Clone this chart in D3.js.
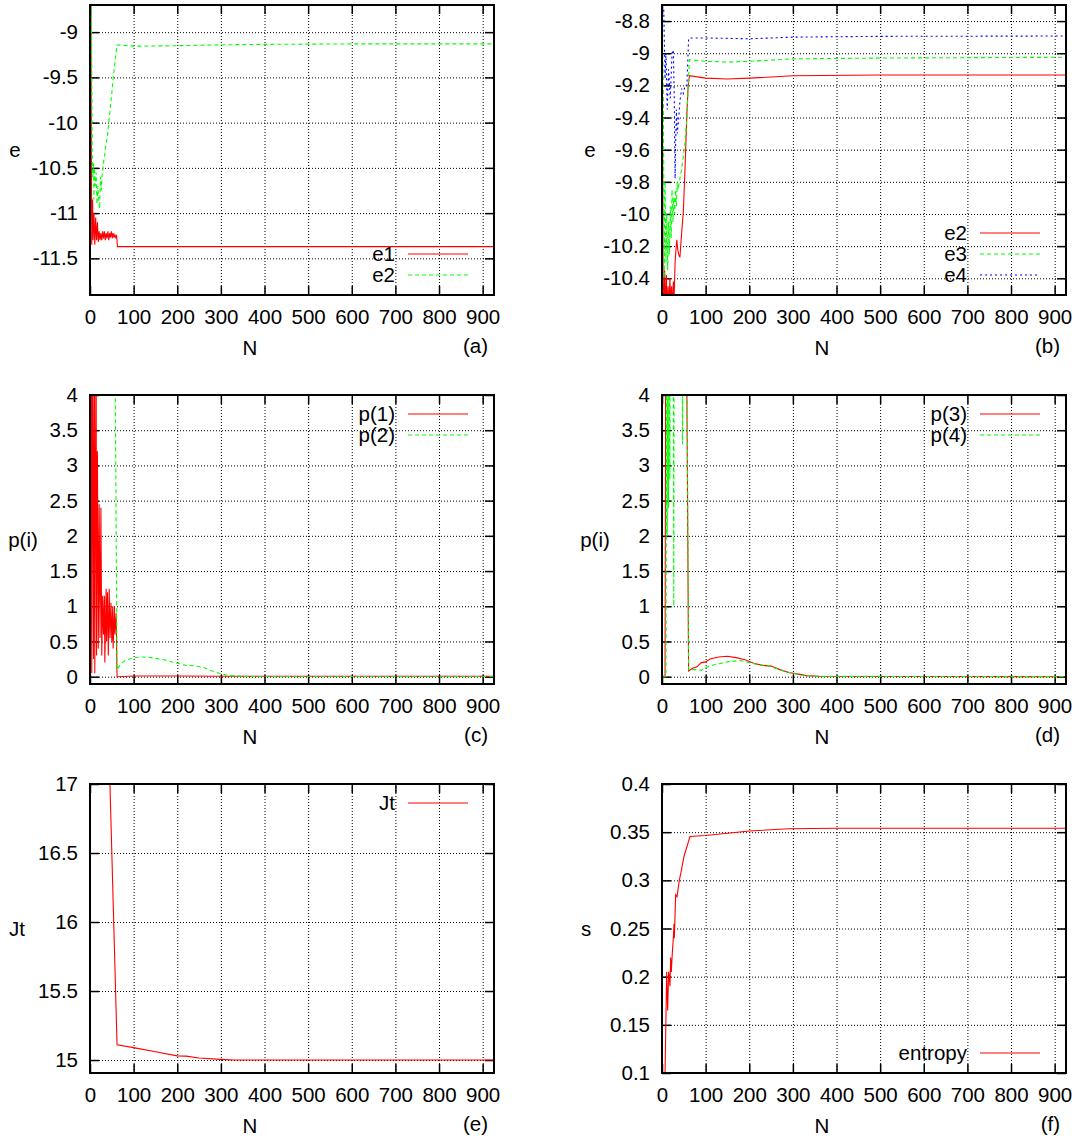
<!DOCTYPE html>
<html>
<head>
<meta charset="utf-8">
<script src="https://cdn.jsdelivr.net/npm/d3@7"></script>
<style>
body { margin: 0; background: #fff; }
text { font-family: "Liberation Sans", Arial, Helvetica, sans-serif; font-size: 20.5px; fill: #000; }
</style>
</head>
<body>
<svg id="chart" width="1079" height="1143"></svg>
<script>
// shared x axis
const xMax = 926;
const xTicks = [0, 100, 200, 300, 400, 500, 600, 700, 800, 900];

// (a) energies e1, e2  -- [N, value]
const aTicks = [-11.5, -11, -10.5, -10, -9.5, -9];
const aE1 = [[2,-8.6],[3,-10.1],[4,-11.35],[6,-10.85],[7,-11.3],[9,-11.0],[11,-11.35],[13,-11.05],[15,-11.3],
  [17,-11.1],[19,-11.32],[21,-11.2],[23,-11.3],[25,-11.22],[27,-11.3],[29,-11.2],[31,-11.28],[33,-11.2],
  [35,-11.3],[37,-11.22],[39,-11.28],[41,-11.2],[43,-11.3],[45,-11.22],[47,-11.27],[49,-11.2],[51,-11.28],
  [53,-11.22],[55,-11.27],[57,-11.24],[59,-11.27],[61,-11.25],[63,-11.37],[100,-11.37],[300,-11.37],[926,-11.37]];
const aE2 = [[3,-8.5],[5,-10.35],[6,-10.6],[8,-10.45],[9,-10.85],[10,-10.5],[12,-10.7],[14,-10.55],[16,-10.9],
  [18,-10.7],[20,-10.85],[22,-10.95],[24,-10.6],[26,-10.75],[28,-10.55],[30,-10.5],[32,-10.4],[34,-10.35],
  [36,-10.25],[38,-10.2],[40,-10.15],[42,-10.05],[44,-9.95],[46,-9.86],[50,-9.67],[54,-9.47],[58,-9.3],
  [62,-9.14],[100,-9.155],[200,-9.15],[300,-9.14],[400,-9.135],[600,-9.13],[926,-9.13]];

// (b) energies e2, e3, e4
const bTicks = [-10.4, -10.2, -10, -9.8, -9.6, -9.4, -9.2, -9, -8.8];
const bE2 = [[0,-8.6],[3,-10.7],[6,-10.35],[8,-10.6],[10,-10.38],[12,-10.6],[14,-10.45],[16,-10.6],[18,-10.4],
  [20,-10.55],[22,-10.45],[24,-10.6],[26,-10.42],[28,-10.5],[30,-10.3],[32,-10.22],[34,-10.16],[36,-10.22],
  [38,-10.25],[41,-10.27],[45,-10.12],[49,-9.98],[53,-9.7],[57,-9.38],[60,-9.2],[63,-9.14],[100,-9.155],
  [150,-9.16],[200,-9.155],[300,-9.14],[500,-9.135],[926,-9.135]];
const bE3 = [[0,-8.75],[3,-9.2],[5,-10.4],[7,-9.8],[9,-10.3],[11,-10.0],[13,-10.35],[15,-10.05],[17,-10.25],
  [19,-9.95],[21,-10.15],[23,-9.85],[25,-10.05],[27,-9.9],[29,-10.0],[31,-9.85],[33,-9.95],[35,-9.8],
  [37,-9.85],[41,-9.78],[45,-9.72],[49,-9.64],[53,-9.55],[57,-9.4],[60,-9.2],[63,-9.04],[100,-9.05],
  [150,-9.055],[200,-9.05],[300,-9.035],[500,-9.03],[926,-9.025]];
const bE4 = [[4,-8.73],[7,-9.16],[9,-9.0],[12,-9.35],[15,-9.1],[19,-9.28],[23,-9.0],[26,-8.98],[28,-9.25],
  [30,-9.78],[31,-9.6],[33,-9.35],[35,-9.5],[38,-9.42],[41,-9.3],[45,-9.22],[49,-9.25],[53,-9.2],[57,-9.2],
  [61,-8.91],[65,-8.905],[100,-8.905],[200,-8.91],[250,-8.905],[300,-8.9],[500,-8.895],[926,-8.893]];

// (c) p(1), p(2)
const pTicks = [0, 0.5, 1, 1.5, 2, 2.5, 3, 3.5, 4];
const cP1 = [[1,0.0],[3,5],[4,0.05],[6,5],[8,0.25],[10,5],[11,0.05],[14,5],[15,0.3],[17,3.2],[19,0.4],
  [21,2.45],[23,0.55],[25,2.4],[27,0.3],[29,1.15],[31,0.6],[33,1.15],[34,0.2],[37,1.25],[38,0.5],[40,1.2],
  [42,0.3],[44,1.25],[46,0.55],[48,1.05],[50,0.5],[52,1.0],[53,0.4],[56,1.0],[57,0.6],[60,0.9],[61,0.4],
  [62,0.0],[100,0.01],[200,0.01],[300,0.005],[926,0.005]];
const cP2 = [[1,6],[56,6],[62,0.1],[70,0.18],[80,0.23],[100,0.27],[120,0.28],[140,0.27],[170,0.24],
  [200,0.19],[220,0.16],[240,0.155],[260,0.13],[280,0.08],[300,0.04],[320,0.015],[350,0.005],[400,0.002],[926,0.002]];

// (d) p(3), p(4)
const dP3 = [[1,0],[7,0],[9,6],[55,6],[61,0.08],[70,0.12],[80,0.14],[90,0.2],[100,0.21],[110,0.25],
  [130,0.28],[150,0.29],[170,0.27],[190,0.24],[210,0.19],[230,0.16],[250,0.15],[270,0.1],[290,0.06],
  [310,0.04],[330,0.015],[360,0.005],[926,0]];
const dP4 = [[1,0],[9,0],[11,6],[12,2.0],[13,6],[15,2.4],[16,6],[18,2.8],[19,6],[26,6],[27,1.0],[28,6],
  [46,6],[47,3.3],[48,6],[56,6],[61,0.1],[70,0.1],[80,0.1],[90,0.09],[100,0.13],[120,0.17],[150,0.21],
  [180,0.23],[200,0.2],[220,0.17],[240,0.16],[260,0.12],[280,0.08],[300,0.05],[320,0.02],[350,0.005],[926,0]];

// (e) Jt
const eTicks = [15, 15.5, 16, 16.5, 17];
const eJt = [[1,22],[20,19],[44,17.2],[62,15.11],[100,15.09],[150,15.06],[200,15.03],[220,15.028],
  [250,15.015],[300,15.005],[330,15.0],[500,15.0],[926,15.0]];

// (f) entropy
const fTicks = [0.1, 0.15, 0.2, 0.25, 0.3, 0.35, 0.4];
const fS = [[5,0.06],[7,0.1],[10.7,0.205],[13,0.165],[15.3,0.205],[16.8,0.2],[18.3,0.19],[19.9,0.22],
  [21.4,0.205],[23.7,0.225],[26,0.24],[27.5,0.255],[28.3,0.24],[31.3,0.285],[34.4,0.283],[39.7,0.3],
  [44.3,0.31],[50.5,0.325],[64.2,0.3455],[100,0.3465],[200,0.3512],[290,0.3535],[400,0.354],[926,0.354]];

const RED = {stroke: '#ff0000', dash: null};
const GREEN = {stroke: '#00ff00', dash: '4,3'};
const BLUE = {stroke: '#0000ff', dash: '2,3'};

const panels = [
  {tag: 'a', x0: 90, x1: 494, y0: 5, y1: 295, yDomain: [-11.905, -8.70], yTicks: aTicks, ylabel: 'e', ylx: 15,
   key: 'bottom', series: [{name: 'e1', data: aE1, ...RED}, {name: 'e2', data: aE2, ...GREEN}]},
  {tag: 'b', x0: 662, x1: 1066, y0: 5, y1: 295, yDomain: [-10.504, -8.70], yTicks: bTicks, ylabel: 'e', ylx: 590,
   key: 'bottom', series: [{name: 'e2', data: bE2, ...RED}, {name: 'e3', data: bE3, ...GREEN}, {name: 'e4', data: bE4, ...BLUE}]},
  {tag: 'c', x0: 90, x1: 494, y0: 395, y1: 684, yDomain: [-0.104, 4], yTicks: pTicks, ylabel: 'p(i)', ylx: 23,
   key: 'top', series: [{name: 'p(1)', data: cP1, ...RED}, {name: 'p(2)', data: cP2, ...GREEN}]},
  {tag: 'd', x0: 662, x1: 1066, y0: 395, y1: 684, yDomain: [-0.104, 4], yTicks: pTicks, ylabel: 'p(i)', ylx: 595,
   key: 'top', series: [{name: 'p(3)', data: dP3, ...RED}, {name: 'p(4)', data: dP4, ...GREEN}]},
  {tag: 'e', x0: 90, x1: 494, y0: 784, y1: 1073, yDomain: [14.906, 17], yTicks: eTicks, ylabel: 'Jt', ylx: 17,
   key: 'top', series: [{name: 'Jt', data: eJt, ...RED}]},
  {tag: 'f', x0: 662, x1: 1066, y0: 784, y1: 1073, yDomain: [0.1, 0.4], yTicks: fTicks, ylabel: 's', ylx: 586,
   key: 'bottom', series: [{name: 'entropy', data: fS, ...RED}]}
];

const svg = d3.select('#chart');
const fmt = d => String(d);

panels.forEach(p => {
  const x = d3.scaleLinear().domain([0, xMax]).range([p.x0, p.x1]);
  const y = d3.scaleLinear().domain(p.yDomain).range([p.y1, p.y0]);
  const w = p.x1 - p.x0, h = p.y1 - p.y0;
  const g = svg.append('g');

  svg.append('clipPath').attr('id', 'clip-' + p.tag)
    .append('rect').attr('x', p.x0).attr('y', p.y0).attr('width', w).attr('height', h);

  // dotted grid
  const gx = g.append('g').attr('transform', `translate(0,${p.y1})`)
    .call(d3.axisBottom(x).tickValues(xTicks).tickSize(-h).tickFormat(''));
  const gy = g.append('g').attr('transform', `translate(${p.x0},0)`)
    .call(d3.axisLeft(y).tickValues(p.yTicks).tickSize(-w).tickFormat(''));
  [gx, gy].forEach(a => {
    a.select('.domain').remove();
    a.selectAll('line').attr('stroke', '#000').attr('stroke-width', 1).attr('stroke-dasharray', '1,2');
  });

  // inward ticks on all four sides, labels bottom and left
  const axB = g.append('g').attr('transform', `translate(0,${p.y1})`)
    .call(d3.axisBottom(x).tickValues(xTicks).tickSize(-9).tickPadding(14).tickFormat(fmt));
  const axT = g.append('g').attr('transform', `translate(0,${p.y0})`)
    .call(d3.axisTop(x).tickValues(xTicks).tickSize(-9).tickFormat(''));
  const axL = g.append('g').attr('transform', `translate(${p.x0},0)`)
    .call(d3.axisLeft(y).tickValues(p.yTicks).tickSize(-9).tickPadding(12).tickFormat(fmt));
  const axR = g.append('g').attr('transform', `translate(${p.x1},0)`)
    .call(d3.axisRight(y).tickValues(p.yTicks).tickSize(-9).tickFormat(''));
  [axB, axT, axL, axR].forEach(a => {
    a.select('.domain').remove();
    a.attr('font-size', null).attr('font-family', null);
    a.selectAll('line').attr('stroke', '#000').attr('stroke-width', 1.5);
  });

  // series
  const line = d3.line().x(d => x(d[0])).y(d => y(d[1]));
  p.series.forEach(s => {
    g.append('path').datum(s.data)
      .attr('clip-path', `url(#clip-${p.tag})`)
      .attr('d', line)
      .attr('fill', 'none')
      .attr('stroke', s.stroke)
      .attr('stroke-width', 1.1)
      .attr('stroke-dasharray', s.dash);
  });

  // border
  g.append('rect').attr('x', p.x0).attr('y', p.y0).attr('width', w).attr('height', h)
    .attr('fill', 'none').attr('stroke', '#000').attr('stroke-width', 2);

  // key
  const n = p.series.length;
  p.series.forEach((s, i) => {
    const ry = p.key === 'top' ? p.y0 + 19 + i * 21 : p.y1 - 20 - (n - 1 - i) * 21;
    g.append('text').attr('x', p.x1 - 99).attr('y', ry + 7).attr('text-anchor', 'end').text(s.name);
    g.append('line').attr('x1', p.x1 - 86).attr('x2', p.x1 - 26).attr('y1', ry).attr('y2', ry)
      .attr('stroke', s.stroke).attr('stroke-width', 1.1).attr('stroke-dasharray', s.dash);
  });

  // labels
  g.append('text').attr('x', p.x0 + 160).attr('y', p.y1 + 60).attr('text-anchor', 'middle').text('N');
  g.append('text').attr('x', p.ylx).attr('y', (p.y0 + p.y1) / 2 + 7).attr('text-anchor', 'middle').text(p.ylabel);
  g.append('text').attr('x', p.x1 - 6).attr('y', p.y1 + 58).attr('text-anchor', 'end').text(`(${p.tag})`);
});
</script>
</body>
</html>
